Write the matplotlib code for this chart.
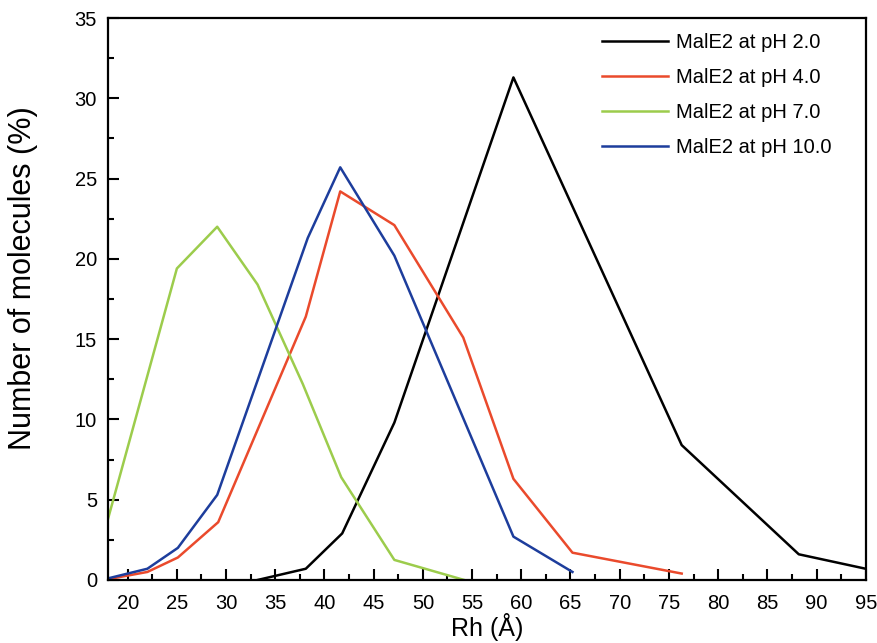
import numpy as np
import matplotlib
matplotlib.use('Agg')
from matplotlib import pyplot as plt
from matplotlib.ticker import MultipleLocator

plt.rcParams['font.family'] = ['Liberation Sans', 'DejaVu Sans']

# Rh (A) vs number of molecules (%) for each pH
rh_ph2 = [33.2, 38.1, 41.8, 47.1, 59.2, 76.3, 88.2, 95.0]
n_ph2 = [0.0, 0.7, 2.9, 9.8, 31.3, 8.4, 1.6, 0.7]

rh_ph4 = [18.0, 22.0, 25.1, 29.2, 38.1, 41.6, 47.1, 54.1, 59.2, 65.2, 76.3]
n_ph4 = [0.05, 0.5, 1.4, 3.6, 16.4, 24.2, 22.1, 15.1, 6.3, 1.7, 0.4]

rh_ph7 = [18.0, 25.0, 29.1, 33.2, 37.8, 41.7, 47.1, 54.2]
n_ph7 = [3.8, 19.4, 22.0, 18.4, 12.2, 6.4, 1.25, 0.0]

rh_ph10 = [18.0, 22.0, 25.1, 29.1, 38.3, 41.6, 47.1, 59.2, 65.2]
n_ph10 = [0.1, 0.7, 2.0, 5.3, 21.3, 25.7, 20.2, 2.7, 0.5]

labels = ['MalE2 at pH 2.0', 'MalE2 at pH 4.0', 'MalE2 at pH 7.0', 'MalE2 at pH 10.0']
colors = ['#000000', '#ea4a2c', '#9ccc4c', '#1d3d9c']

fig = plt.figure(figsize=(8.78, 6.43), dpi=100)
ax = fig.add_axes([0.123, 0.098, 0.863, 0.874])

series = [(rh_ph2, n_ph2), (rh_ph4, n_ph4), (rh_ph7, n_ph7), (rh_ph10, n_ph10)]
for (x, y), lab, c in zip(series, labels, colors):
    ax.plot(x, y, color=c, lw=1.8, label=lab)

ax.set_xlim(18, 95)
ax.set_ylim(0, 35)
ax.xaxis.set_major_locator(MultipleLocator(5))
ax.xaxis.set_minor_locator(MultipleLocator(2.5))
ax.yaxis.set_major_locator(MultipleLocator(5))
ax.yaxis.set_minor_locator(MultipleLocator(2.5))
ax.tick_params(which='both', direction='in', width=1.5, labelsize=14.5, pad=8)
ax.tick_params(which='major', length=8)
ax.tick_params(which='minor', length=4)
ax.tick_params(axis='x', pad=10)
for s in ax.spines.values():
    s.set_linewidth(1.6)

ax.set_xlabel('Rh (\u00c5)', fontsize=18, labelpad=0)
ax.set_ylabel('Number of molecules (%)', fontsize=22)
ax.yaxis.set_label_coords(-0.093, 0.537)

ax.legend(loc='upper right', bbox_to_anchor=(0.966, 0.988), borderaxespad=0,
          frameon=False, fontsize=14.5, handlelength=3.3,
          handletextpad=0.4, labelspacing=0.8)

fig.savefig('out.png', dpi=100)
